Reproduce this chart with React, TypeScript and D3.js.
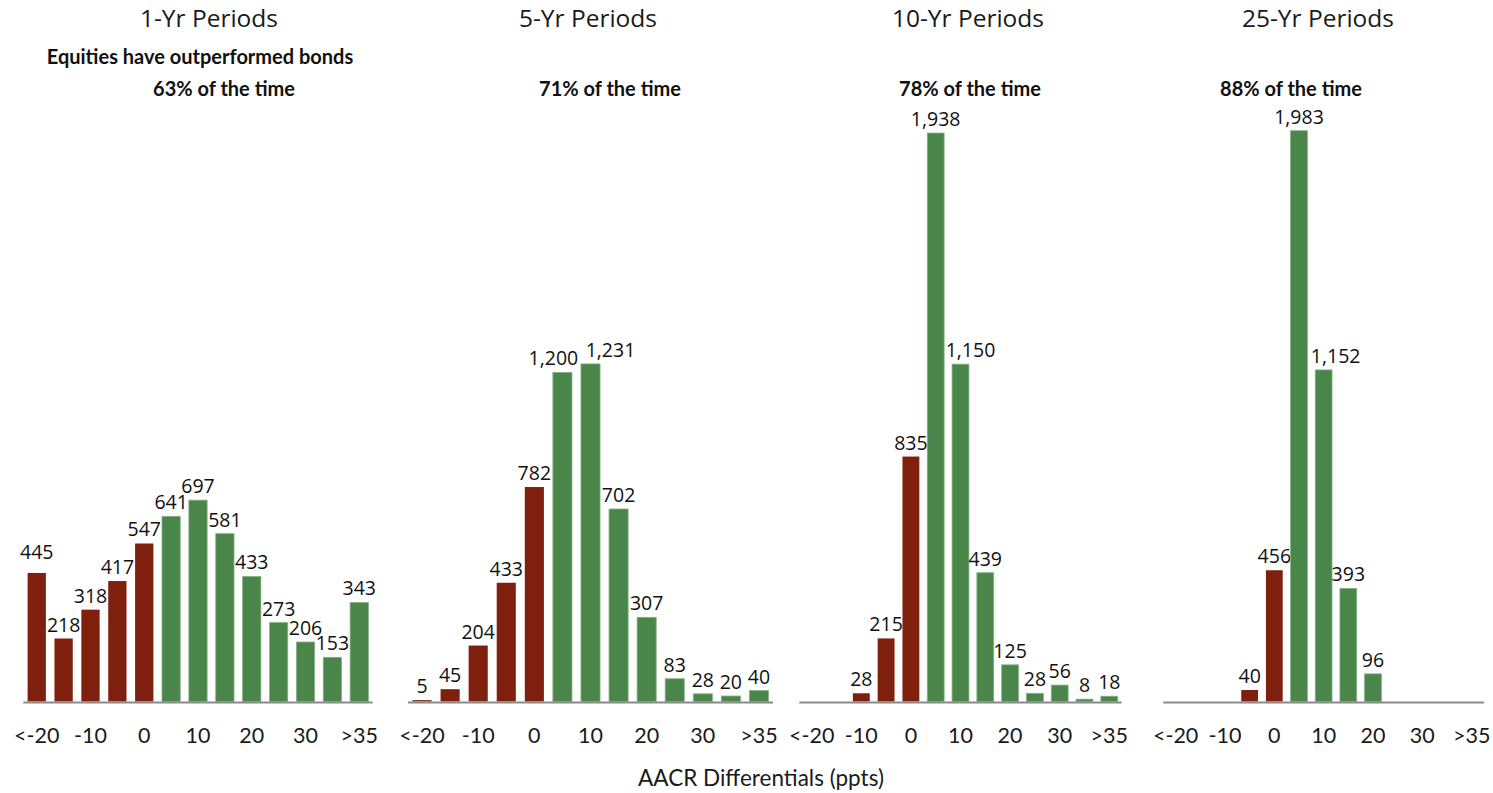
import React from "react";
import * as d3 from "d3";

// Return-differential bins (ppts), shared by every panel
const bins = ["<-20", "-15", "-10", "-5", "0", "5", "10", "15", "20", "25", "30", "35", ">35"];
// Bins that get a tick label
const tickBins = ["<-20", "-10", "0", "10", "20", "30", ">35"];
// Bins at or below zero are drawn as underperformance
const lastNegativeBin = "0";

const periodTitles = ["1-Yr Periods", "5-Yr Periods", "10-Yr Periods", "25-Yr Periods"];
const shareOfTime = ["63%", "71%", "78%", "88%"];

// Counts of rolling periods per bin (null = no observations)
const counts1Yr = [445, 218, 318, 417, 547, 641, 697, 581, 433, 273, 206, 153, 343];
const counts5Yr = [5, 45, 204, 433, 782, 1200, 1231, 702, 307, 83, 28, 20, 40];
const counts10Yr = [null, null, 28, 215, 835, 1938, 1150, 439, 125, 28, 56, 8, 18];
const counts25Yr = [null, null, null, 40, 456, 1983, 1152, 393, 96, null, null, null, null];

const seriesList = [counts1Yr, counts5Yr, counts10Yr, counts25Yr];

// Panel geometry: horizontal extent, value-axis ceiling, text centres
const panelLayout = [
  { x0: 23.3, x1: 372.7, yMax: 1968, titleX: 209, pctX: 224 },
  { x0: 408, x1: 773, yMax: 2073, titleX: 588, pctX: 610 },
  { x0: 799.3, x1: 1121.7, yMax: 1938, titleX: 968, pctX: 970 },
  { x0: 1163.3, x1: 1484, yMax: 1975, titleX: 1318, pctX: 1291 },
];

// Hand-placed label nudges so crowded value labels stay clear of each other
const labelNudges: Record<string, { dx?: number; dy?: number }> = {
  "0:<-20": { dy: -7 },
  "1:5": { dx: -9 },
  "1:10": { dx: 20 },
  "2:10": { dx: 10 },
  "3:10": { dx: 12 },
};

const WIDTH = 1493;
const HEIGHT = 793;
const BASELINE = 701.5;
const PLOT_TOP = 133;

const RED = "#7f1f0e";
const GREEN = "#4a8649";
const fmt = d3.format(",");

const titleFont = "'Open Sans', 'Noto Sans', sans-serif";
const textFont = "Lato, 'Noto Sans', sans-serif";
const labelFont = "'Open Sans', 'Noto Sans', sans-serif";

function Panel({ idx }: { idx: number }) {
  const layout = panelLayout[idx];
  const values = seriesList[idx];
  const x = d3
    .scaleBand<string>()
    .domain(bins)
    .range([layout.x0, layout.x1])
    .paddingInner(0.32)
    .paddingOuter(0.16);
  const y = d3.scaleLinear().domain([0, layout.yMax]).range([BASELINE, PLOT_TOP]);
  const negCut = bins.indexOf(lastNegativeBin);

  return (
    <g>
      <text
        x={layout.titleX}
        y={27}
        textAnchor="middle"
        fontFamily={titleFont}
        fontSize={24.5}
        fill="#1a1a1a"
      >
        {periodTitles[idx]}
      </text>
      {idx === 0 && (
        <text
          x={200}
          y={64}
          textAnchor="middle"
          fontFamily={textFont}
          fontWeight={700}
          fontSize={20}
          fill="#111"
        >
          Equities have outperformed bonds
        </text>
      )}
      <text
        x={layout.pctX}
        y={96}
        textAnchor="middle"
        fontFamily={textFont}
        fontWeight={700}
        fontSize={20}
        fill="#111"
      >
        {shareOfTime[idx]} of the time
      </text>

      {values.map((v, i) => {
        if (v == null) return null;
        const bx = x(bins[i]) as number;
        const top = y(v);
        const neg = i <= negCut;
        const nudge = labelNudges[`${idx}:${bins[i]}`] || {};
        return (
          <g key={i}>
            <rect
              x={bx}
              y={top}
              width={x.bandwidth()}
              height={BASELINE - top}
              fill={neg ? RED : GREEN}
              stroke={neg ? "none" : "#86b385"}
              strokeWidth={neg ? 0 : 0.8}
            />
            <text
              x={bx + x.bandwidth() / 2 + (nudge.dx || 0)}
              y={top - 7 + (nudge.dy || 0)}
              textAnchor="middle"
              fontFamily={labelFont}
              fontSize={19.5}
              fill="#111"
            >
              {fmt(v)}
            </text>
          </g>
        );
      })}

      <line
        x1={layout.x0}
        x2={layout.x1}
        y1={BASELINE + 1}
        y2={BASELINE + 1}
        stroke="#8a8a8a"
        strokeWidth={2}
      />

      {tickBins.map((t) => (
        <text
          key={t}
          x={(x(t) as number) + x.bandwidth() / 2}
          y={743}
          textAnchor="middle"
          fontFamily={textFont}
          fontSize={21.5}
          fill="#1a1a1a"
        >
          {t}
        </text>
      ))}
    </g>
  );
}

export default function App() {
  return (
    <svg
      width={WIDTH}
      height={HEIGHT}
      style={{ position: "absolute", left: 0, top: 0, background: "#fff" }}
    >
      <rect width={WIDTH} height={HEIGHT} fill="#fff" />
      {panelLayout.map((_, i) => (
        <Panel key={i} idx={i} />
      ))}
      <text
        x={761}
        y={786}
        textAnchor="middle"
        fontFamily={textFont}
        fontSize={22.5}
        fill="#1a1a1a"
      >
        AACR Differentials (ppts)
      </text>
    </svg>
  );
}
